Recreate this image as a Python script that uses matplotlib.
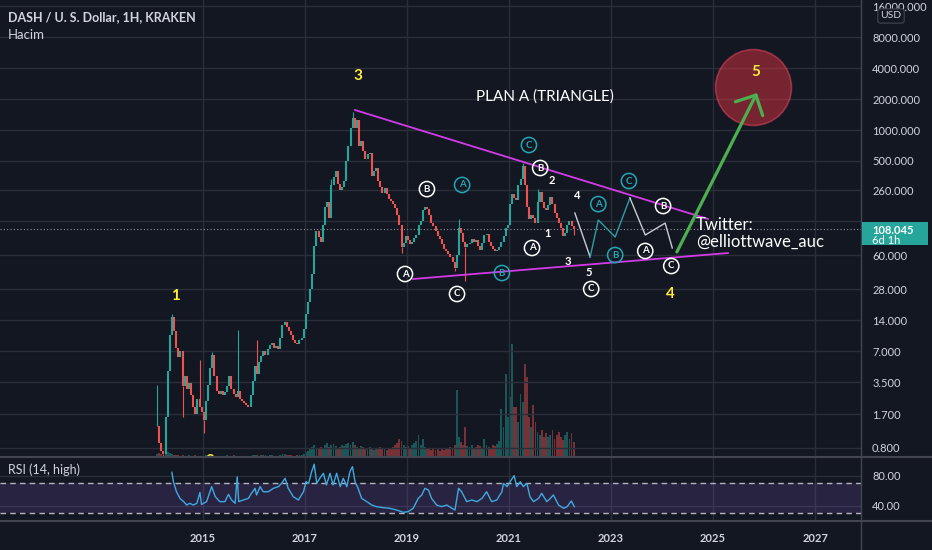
import numpy as np
import matplotlib.pyplot as plt
from matplotlib.patches import Rectangle
from matplotlib.lines import Line2D

plt.rcParams['font.family'] = ['Lato', 'DejaVu Sans']

BG = '#131722'
GRID = '#2a2e39'
SEP = '#434651'
TXT = '#d1d4dc'
UP = '#26a69a'
DOWN = '#ef5350'
TEAL = '#22a7b5'
YELLOW = '#ffeb3b'
MAGENTA = '#d23be7'

# half-month candles starting early Feb 2014 (decimal years)
start_year = 2014.10
step = 1 / 24

closes = [
    1.3, 0.9, 0.75, 0.7, 1.6, 4.5, 10, 15, 11, 7.5,
    6.2, 7.0, 3.2, 4.0, 3.0, 3.4, 2.6, 2.0, 1.7, 2.4,
    2.0, 1.8, 1.5, 2.3, 3.3, 4.8, 6.5, 4.0, 2.9, 2.7,
    2.9, 2.6, 2.8, 3.2, 4.0, 3.0, 2.7, 2.5, 2.9, 2.4,
    2.3, 2.2, 2.1, 2.0, 2.6, 3.6, 5.0, 4.2, 5.5, 6.3,
    7.0, 6.5, 7.4, 8.0, 8.4, 7.6, 7.9, 7.4, 9.5, 12.5,
    13.5, 12.0, 11.0, 10.0, 9.0, 8.5, 8.3, 9.0, 9.5, 11.5,
    16, 21, 28, 40, 75, 105, 90, 82, 120, 180,
    200, 140, 290, 350, 400, 300, 260, 280, 320, 500,
    700, 1050, 1300, 1050, 1250, 700, 780, 620, 520, 580,
    600, 360, 400, 430, 320, 280, 245, 270, 240, 215,
    205, 190, 175, 150, 120, 72, 80, 92, 85, 78,
    82, 88, 95, 120, 130, 165, 180, 170, 150, 125,
    115, 105, 92, 86, 78, 70, 66, 62, 58, 52,
    45, 60, 110, 100, 82, 72, 78, 80, 86, 82,
    84, 75, 68, 80, 95, 98, 82, 74, 70, 66,
    68, 72, 82, 92, 110, 118, 190, 240, 220, 210,
    290, 330, 450, 290, 180, 135, 150, 140, 125, 200,
    250, 200, 175, 165, 185, 225, 190, 155, 140, 125,
    110, 92, 100, 120, 130, 115, 108.045,
]

volumes = [
    3, 4, 3, 2, 3, 5, 4, 3, 2, 2,
    2, 1, 2, 1, 1, 2, 1, 1, 2, 1,
    1, 1, 1, 2, 2, 3, 2, 1, 1, 1,
    1, 1, 1, 2, 1, 1, 2, 1, 1, 1,
    1, 1, 1, 1, 1, 2, 2, 2, 1, 2,
    2, 2, 1, 2, 2, 1, 1, 1, 2, 3,
    3, 2, 2, 2, 1, 1, 2, 2, 2, 3,
    5, 6, 8, 10, 12, 9, 8, 10, 9, 12,
    14, 10, 12, 13, 11, 9, 10, 12, 11, 13,
    14, 12, 15, 12, 10, 9, 11, 10, 8, 9,
    10, 8, 7, 9, 8, 10, 9, 8, 7, 8,
    9, 10, 12, 14, 18, 16, 12, 10, 11, 9,
    12, 14, 16, 22, 12, 18, 10, 8, 9, 7,
    8, 7, 9, 6, 8, 7, 9, 8, 10, 9,
    12, 67, 20, 15, 12, 30, 11, 10, 12, 9,
    10, 12, 11, 9, 18, 12, 10, 9, 12, 11,
    13, 16, 48, 30, 83, 40, 60, 113, 50, 50,
    35, 63, 55, 93, 80, 40, 30, 52, 35, 25,
    22, 27, 20, 24, 20, 22, 27, 18, 22, 25,
    20, 17, 22, 25, 18, 24, 15,
]

# wick extremes for a few candles (index -> price)
wick_highs = {0: 3.3, 7: 16, 20: 5.7, 26: 6.9, 38: 11.3, 47: 9.0, 82: 330,
              92: 1500, 142: 135, 172: 480, 179: 265}
wick_lows = {3: 0.5, 12: 1.6, 22: 1.12, 115: 63, 140: 42, 145: 34, 196: 95}

rsi_years = [2014.39, 2014.42, 2014.48, 2014.55, 2014.62, 2014.68, 2014.74, 2014.81,
             2014.88, 2014.94, 2014.97, 2015.07, 2015.17, 2015.24, 2015.33, 2015.43,
             2015.50, 2015.56, 2015.63, 2015.67, 2015.70, 2015.79, 2015.89, 2015.95,
             2016.02, 2016.05, 2016.12, 2016.18, 2016.28, 2016.38, 2016.48, 2016.54,
             2016.61, 2016.67, 2016.77, 2016.87, 2016.97, 2017.02, 2017.07, 2017.13,
             2017.18, 2017.23, 2017.29, 2017.36, 2017.42, 2017.49, 2017.55, 2017.62,
             2017.69, 2017.75, 2017.82, 2017.88, 2017.93, 2017.98, 2018.04, 2018.11,
             2018.21, 2018.31, 2018.40, 2018.53, 2018.66, 2018.79, 2018.93, 2019.02,
             2019.12, 2019.22, 2019.29, 2019.35, 2019.42, 2019.48, 2019.58, 2019.68,
             2019.78, 2019.88, 2019.94, 2020.01, 2020.07, 2020.17, 2020.27, 2020.37,
             2020.47, 2020.56, 2020.66, 2020.76, 2020.86, 2020.89, 2020.96, 2021.02,
             2021.10, 2021.15, 2021.22, 2021.28, 2021.35, 2021.41, 2021.48, 2021.58,
             2021.64, 2021.74, 2021.81, 2021.87, 2021.97, 2022.07, 2022.14, 2022.22,
             2022.28]
rsi_values = [84.9, 72.4, 59, 50, 45.8, 41.3, 43.6, 41.3,
              43.6, 58, 42, 45.8, 65.8, 52.4, 45.8, 45.8,
              55.6, 48, 43.6, 79, 45.8, 48, 50.2, 56.9,
              63.6, 54.7, 65.8, 59, 59, 63.6, 65.8, 70.2,
              76.9, 63.6, 52.4, 48, 59, 72.4, 70.2, 85.8,
              95.6, 70.2, 76.9, 83.6, 68, 83.6, 68, 83.6,
              65.8, 76.9, 65.8, 85.8, 92.4, 72.4, 63.6, 50.2,
              45.8, 41.3, 39.1, 37.8, 36.9, 34.7, 31.6, 32.4,
              36.9, 50.2, 54.7, 63.6, 61.3, 50.2, 41.3, 39.1,
              41.3, 36.9, 34.7, 63.6, 59, 45.8, 48, 45.8,
              50.2, 59, 45.8, 48, 59, 70.2, 65.8, 72.4,
              80.4, 65.8, 72.4, 65.8, 70.2, 52.4, 45.8, 50.2,
              56.9, 45.8, 50.2, 54.7, 41.3, 36.9, 39.1, 46.7,
              39.1]

price_ticks = [0.8, 1.7, 3.5, 7, 14, 28, 60, 130, 260, 500, 1000, 2000, 4000, 8000, 16000]
year_ticks = [2015, 2017, 2019, 2021, 2023, 2025, 2027]
last_price = 108.045

# Elliott wave drawing (year, price)
white_circles = [(2018.96, 39.6, 'A'), (2019.39, 266, 'B'), (2019.98, 25.3, 'C'),
                 (2021.61, 427, 'B'), (2021.45, 71, 'A'), (2022.61, 28.3, 'C'),
                 (2023.67, 66.4, 'A'), (2024.02, 182, 'B'), (2024.18, 47.4, 'C')]
teal_circles = [(2020.08, 292, 'A'), (2021.39, 715, 'C'), (2020.86, 40.5, 'B'),
                (2022.75, 190, 'A'), (2023.08, 60.6, 'B'), (2023.35, 319, 'C')]
sub_waves = [(2021.84, 326, '2'), (2022.33, 228, '4'), (2021.75, 99, '1'),
             (2022.16, 53, '3'), (2022.57, 41.4, '5')]
main_waves = [(2018.04, 3362, '3'), (2014.47, 24.2, '1'), (2024.16, 25.3, '4'),
              (2015.14, 0.60, '2')]
upper_line = ([2017.98, 2024.90], [1568, 136])
lower_line = ([2019.12, 2025.29], [35.4, 63.4])
proj_white1 = ([2022.29, 2022.59], [155.6, 58])
proj_teal = ([2022.59, 2022.75, 2023.08, 2023.37], [58, 133, 90.8, 218])
proj_white2 = ([2023.37, 2023.67, 2024.06, 2024.20], [218, 95, 124, 71])
arrow_tail = (2024.29, 64.9)
arrow_tip = (2025.86, 2296)
target = (2025.78, 2627)

n = len(closes)
years = start_year + np.arange(n) * step
opens = [closes[0]] + closes[:-1]
colors = [UP if c >= o else DOWN for o, c in zip(opens, closes)]

fig = plt.figure(figsize=(9.32, 5.5), dpi=100, facecolor=BG)
ax = fig.add_axes([0, 93 / 550, 861 / 932, 457 / 550])
ax_rsi = fig.add_axes([0, 29 / 550, 861 / 932, 64 / 550])
ax_vol = ax.twinx()

for a in (ax, ax_rsi):
    a.set_facecolor(BG)
    for s in a.spines.values():
        s.set_visible(False)
    a.set_xlim(2011.02, 2027.90)
    a.set_xticks(year_ticks)
    a.grid(True, color=GRID, lw=1)
    a.set_axisbelow(True)
    a.tick_params(length=0, colors=TXT, labelsize=8)
    a.yaxis.tick_right()

# volume overlay
ax_vol.set_ylim(0, 457)
ax_vol.bar(years, volumes, width=step * 0.85, color=colors, alpha=0.45, zorder=1)
ax_vol.set_yticks([])
for s in ax_vol.spines.values():
    s.set_visible(False)
ax_vol.set_zorder(ax.get_zorder() - 1)
ax.patch.set_visible(False)
fig.patches.append(Rectangle((0, 93 / 550), 861 / 932, 457 / 550, transform=fig.transFigure,
                             facecolor=BG, zorder=-10))

# price panel
ax.set_yscale('log')
ax.set_ylim(0.653, 18500)
ax.set_yticks(price_ticks)
# the 130 label sits under the last-price tag
ax.set_yticklabels(['' if t == 130 else '%.3f' % t for t in price_ticks])
ax.yaxis.set_minor_locator(plt.NullLocator())
ax.tick_params(axis='y', pad=8)
ax.set_xticklabels([])

lo = [min(o, c) for o, c in zip(opens, closes)]
hi = [max(o, c) for o, c in zip(opens, closes)]
ax.vlines(years, lo, hi, colors=colors, lw=1.5, zorder=3)
for i, h in wick_highs.items():
    ax.vlines(years[i], hi[i], h, colors=colors[i], lw=0.8, zorder=3)
for i, l in wick_lows.items():
    ax.vlines(years[i], l, lo[i], colors=colors[i], lw=0.8, zorder=3)

ax.axhline(last_price, color='#9598a1', ls=(0, (1, 2)), lw=0.8, zorder=2)

# triangle and projections
ax.plot(*upper_line, color=MAGENTA, lw=1.3, zorder=4)
ax.plot(*lower_line, color=MAGENTA, lw=1.3, zorder=4)
ax.plot(*proj_white1, color='#c8cbd2', lw=1, zorder=4)
ax.plot(*proj_teal, color='#2a9ea8', lw=1, zorder=4)
ax.plot(*proj_white2, color='#c8cbd2', lw=1, zorder=4)

ax.scatter([target[0]], [target[1]], s=2990, facecolor='#f23645', alpha=0.45,
           edgecolor='#ff4d6a', linewidth=1.2, zorder=4)
ax.annotate('', xy=arrow_tip, xytext=arrow_tail, zorder=5,
            arrowprops=dict(arrowstyle='->,head_length=0.55,head_width=0.55',
                            color='#4caf50', lw=2.3, mutation_scale=20,
                            shrinkA=0, shrinkB=0))
ax.text(target[0] + 0.05, target[1] * 1.4, '5', color=YELLOW, fontsize=11,
        fontweight='bold', ha='center', va='center', zorder=6)

for x, y, t in white_circles:
    ax.scatter([x], [y], s=120, facecolors='none', edgecolors='white', linewidths=1.1, zorder=6)
    ax.text(x, y, t, color='white', fontsize=7, fontweight='bold', ha='center', va='center', zorder=7)
for x, y, t in teal_circles:
    ax.scatter([x], [y], s=120, facecolors='none', edgecolors=TEAL, linewidths=1.1, zorder=6)
    ax.text(x, y, t, color=TEAL, fontsize=7, fontweight='bold', ha='center', va='center', zorder=7)
for x, y, t in sub_waves:
    ax.text(x, y, t, color='white', fontsize=8, fontweight='bold', ha='center', va='center', zorder=7)
for x, y, t in main_waves:
    ax.text(x, y, t, color=YELLOW, fontsize=11, fontweight='bold', ha='center', va='center',
            zorder=7, clip_on=True)

ax.text(2021.71, 2099, 'PLAN A (TRIANGLE)', color='white', fontsize=11, ha='center',
        va='center', zorder=7)
ax.text(2024.67, 118.9, 'Twitter:', color='white', fontsize=12, ha='left', va='center', zorder=7)
ax.text(2024.67, 81.2, '@elliottwave_auc', color='white', fontsize=12, ha='left', va='center', zorder=7)

ax.text(8 / 861, 1 - 17 / 457, 'DASH / U. S. Dollar, 1H, KRAKEN', transform=ax.transAxes,
        color=TXT, fontsize=9, fontweight='bold', ha='left', va='center')
ax.text(8 / 861, 1 - 35 / 457, 'Hacim', transform=ax.transAxes,
        color=TXT, fontsize=9.5, ha='left', va='center')

# RSI panel
ax_rsi.set_ylim(20, 105.3)
ax_rsi.set_yticks([80, 40])
ax_rsi.set_yticklabels(['80.00', '40.00'])
ax_rsi.tick_params(axis='y', pad=8)
ax_rsi.tick_params(axis='x', pad=9)
ax_rsi.set_xticklabels([str(y) for y in year_ticks], fontweight='bold')
ax_rsi.axhspan(30, 70, color='#7e57c2', alpha=0.2, lw=0)
for lvl in (70, 30):
    ax_rsi.axhline(lvl, color='#b2b5be', ls=(0, (4, 3)), lw=1)
ax_rsi.plot(rsi_years, rsi_values, color='#3fa9e0', lw=1)
ax_rsi.text(8 / 861, 1 - 13 / 64, 'RSI (14, high)', transform=ax_rsi.transAxes,
            color=TXT, fontsize=9, ha='left', va='center')

# separators
fig.add_artist(Line2D([0, 1], [93 / 550, 93 / 550], color=SEP, lw=1.5, transform=fig.transFigure))
fig.add_artist(Line2D([0, 1], [29 / 550, 29 / 550], color=SEP, lw=1.5, transform=fig.transFigure))
fig.add_artist(Line2D([861 / 932, 861 / 932], [0, 1], color=SEP, lw=1, transform=fig.transFigure))

# last price tag and currency box
fig.patches.append(Rectangle((862 / 932, (550 - 245) / 550), 66 / 932, 23 / 550,
                             transform=fig.transFigure, facecolor=UP, zorder=10))
fig.text(872 / 932, 1 - 230 / 550, '%.3f' % last_price, color='white', fontsize=8,
         fontweight='bold', va='center', ha='left', zorder=11)
fig.text(872 / 932, 1 - 241 / 550, '6d 1h', color='white', fontsize=8,
         va='center', ha='left', zorder=11)
fig.text(891 / 932, 1 - 16 / 550, 'USD', color=TXT, fontsize=7.5, ha='center', va='center',
         bbox=dict(boxstyle='round,pad=0.25', facecolor=BG, edgecolor=SEP, lw=0.8))

fig.savefig('out.png', dpi=100, facecolor=BG)
